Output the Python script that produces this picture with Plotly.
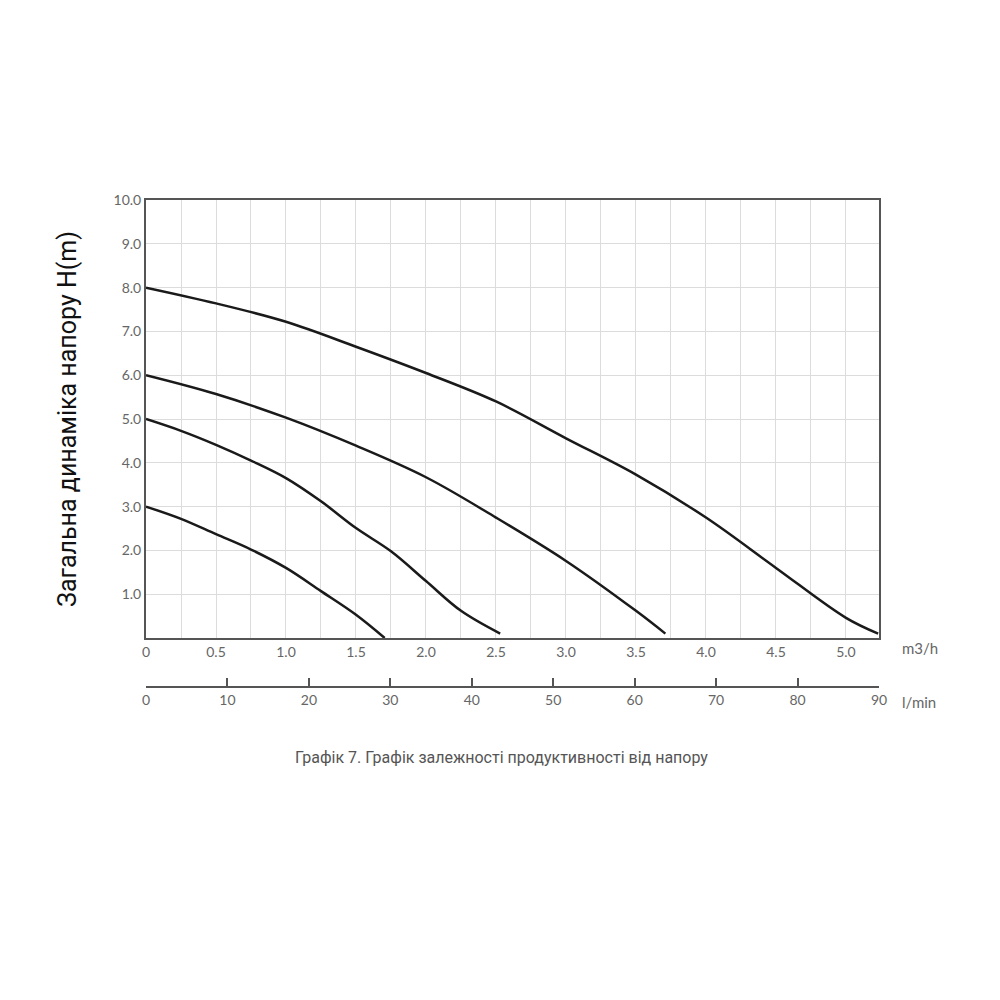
import plotly.graph_objects as go

# pump curves, flow in m3/h, head in m
q1 = [0, 0.25, 0.5, 0.75, 1.0, 1.25, 1.5, 1.705]
h1 = [3.0, 2.72, 2.37, 2.02, 1.6, 1.07, 0.53, 0.0]

q2 = [0, 0.25, 0.5, 0.75, 1.0, 1.25, 1.5, 1.75, 2.0, 2.25, 2.53]
h2 = [5.0, 4.73, 4.41, 4.05, 3.65, 3.12, 2.51, 1.98, 1.30, 0.62, 0.1]

q3 = [0, 0.5, 1.0, 1.5, 2.0, 2.5, 3.0, 3.5, 3.71]
h3 = [6.0, 5.57, 5.03, 4.39, 3.67, 2.75, 1.76, 0.62, 0.1]

q4 = [0, 0.5, 1.0, 1.5, 2.0, 2.5, 3.0, 3.5, 4.0, 4.5, 5.0, 5.23]
h4 = [8.0, 7.64, 7.22, 6.65, 6.05, 5.40, 4.56, 3.73, 2.75, 1.6, 0.46, 0.1]

m3h_ticks = [0, 0.5, 1.0, 1.5, 2.0, 2.5, 3.0, 3.5, 4.0, 4.5, 5.0]
m3h_labels = ["0", "0.5", "1.0", "1.5", "2.0", "2.5", "3.0", "3.5", "4.0", "4.5", "5.0"]
lmin_ticks = [0, 10, 20, 30, 40, 50, 60, 70, 80, 90]
h_ticks = [1, 2, 3, 4, 5, 6, 7, 8, 9, 10]

FONT = "Lato, DejaVu Sans, sans-serif"
GREY = "#666666"

fig = go.Figure()
for q, h in [(q1, h1), (q2, h2), (q3, h3), (q4, h4)]:
    fig.add_trace(go.Scatter(x=q, y=h, mode="lines", line=dict(color="#1a1a1a", width=2.5, shape="spline"),
                             showlegend=False, hoverinfo="skip"))
# dummy trace so the l/min axis is drawn
fig.add_trace(go.Scatter(x=[0, 90], y=[None, None], xaxis="x2", mode="lines", showlegend=False))

fig.update_layout(
    width=1000, height=1000,
    paper_bgcolor="white", plot_bgcolor="white",
    margin=dict(l=138, r=129, t=192, b=321),
    font=dict(family=FONT, color=GREY, size=14),
    xaxis=dict(range=[0, 5.236], tickvals=m3h_ticks, ticktext=m3h_labels,
               showgrid=True, gridcolor="#dcdcdc", gridwidth=1,
               minor=dict(dtick=0.25, showgrid=True, gridcolor="#dcdcdc"),
               showline=True, linecolor="#555555", linewidth=2, mirror=True,
               ticks="", zeroline=False, anchor="y"),
    yaxis=dict(range=[0, 10], domain=[0.1006, 1], tickvals=h_ticks,
               tickformat=".1f", showgrid=True, gridcolor="#dcdcdc",
               showline=True, linecolor="#555555", linewidth=2, mirror=True,
               ticks="", zeroline=False,
               title=dict(text="Загальна динаміка напору H(m)", standoff=30,
                          font=dict(size=25, color="#111111", family="Roboto, DejaVu Sans"))),
    xaxis2=dict(range=[0, 90], tickvals=lmin_ticks, anchor="free", position=0,
                overlaying="x", side="bottom", showgrid=False, zeroline=False,
                showline=True, linecolor="#555555", linewidth=2,
                ticks="inside", ticklen=8, tickcolor="#555555", tickwidth=2),
)

fig.add_annotation(text="m3/h", xref="paper", yref="paper", x=1.028, y=0.08,
                   xanchor="left", yanchor="middle", showarrow=False, font=dict(size=15, color=GREY))
fig.add_annotation(text="l/min", xref="paper", yref="paper", x=1.028, y=-0.03,
                   xanchor="left", yanchor="middle", showarrow=False, font=dict(size=15, color=GREY))
fig.add_annotation(text="Графік 7. Графік залежності продуктивності від напору",
                   xref="paper", yref="paper", x=0.485, y=-0.145, xanchor="center",
                   yanchor="middle", showarrow=False,
                   font=dict(size=16, color="#555555", family="Roboto, DejaVu Sans"))

fig.write_html("out.html")
